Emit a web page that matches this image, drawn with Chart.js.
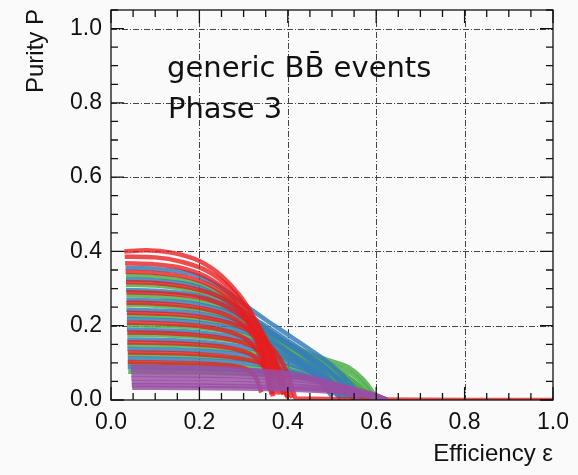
<!DOCTYPE html>
<html>
<head>
<meta charset="utf-8">
<script src="https://cdn.jsdelivr.net/npm/chart.js@4.4.1/dist/chart.umd.min.js"></script>
<style>
  html, body { margin: 0; padding: 0; background: #fafafa; }
  #wrap { width: 578px; height: 475px; }
</style>
</head>
<body>
<div id="wrap"><canvas id="c" width="578" height="475"></canvas></div>
<script>
// purity vs efficiency curves: [efficiency, purity]
const redCurves = [
  [[0.030,0.400],[0.08,0.403],[0.14,0.396],[0.20,0.374],[0.25,0.334],[0.29,0.283],[0.32,0.230],[0.35,0.165],[0.375,0.100],[0.395,0.048],[0.41,0.006]],
  [[0.031,0.386],[0.10,0.384],[0.16,0.372],[0.22,0.346],[0.27,0.300],[0.31,0.242],[0.34,0.182],[0.365,0.120],[0.385,0.060],[0.398,0.010]],
  [[0.032,0.368],[0.10,0.365],[0.17,0.352],[0.23,0.322],[0.28,0.272],[0.32,0.205],[0.35,0.135],[0.37,0.072],[0.382,0.015]],
  [[0.033,0.345],[0.10,0.342],[0.18,0.328],[0.24,0.298],[0.29,0.248],[0.32,0.196],[0.345,0.135],[0.362,0.072],[0.372,0.015]],
  [[0.034,0.318],[0.10,0.315],[0.18,0.302],[0.25,0.275],[0.29,0.240],[0.32,0.190],[0.34,0.135],[0.355,0.075],[0.363,0.015]],
  [[0.035,0.290],[0.10,0.288],[0.20,0.276],[0.26,0.252],[0.30,0.220],[0.33,0.180],[0.36,0.125],[0.38,0.070],[0.392,0.015]],
  [[0.035,0.262],[0.10,0.260],[0.20,0.248],[0.27,0.224],[0.31,0.190],[0.335,0.145],[0.35,0.090],[0.358,0.030]],
  [[0.036,0.235],[0.10,0.233],[0.20,0.224],[0.28,0.203],[0.33,0.175],[0.37,0.132],[0.395,0.082],[0.41,0.035],[0.418,0.004],[1.0,0.0]],
  [[0.036,0.208],[0.10,0.207],[0.20,0.199],[0.27,0.183],[0.31,0.160],[0.335,0.125],[0.35,0.080],[0.36,0.025]],
  [[0.037,0.182],[0.10,0.181],[0.20,0.174],[0.28,0.160],[0.33,0.138],[0.36,0.105],[0.38,0.060],[0.39,0.015]],
  [[0.037,0.155],[0.10,0.154],[0.20,0.149],[0.28,0.137],[0.32,0.120],[0.345,0.090],[0.36,0.050],[0.366,0.010]],
  [[0.038,0.128],[0.10,0.127],[0.20,0.123],[0.28,0.114],[0.34,0.098],[0.37,0.075],[0.39,0.040],[0.40,0.005]],
  [[0.038,0.102],[0.10,0.101],[0.20,0.098],[0.27,0.092],[0.31,0.080],[0.33,0.055],[0.34,0.020]]
];

const blueCurves = [
  [[0.033,0.356],[0.10,0.353],[0.18,0.340],[0.25,0.302],[0.30,0.258],[0.35,0.216],[0.40,0.176],[0.45,0.136],[0.50,0.092],[0.54,0.046],[0.57,0.006]],
  [[0.034,0.325],[0.10,0.322],[0.20,0.304],[0.26,0.268],[0.32,0.222],[0.38,0.176],[0.43,0.136],[0.48,0.092],[0.52,0.046],[0.55,0.006]],
  [[0.034,0.296],[0.10,0.294],[0.20,0.280],[0.27,0.248],[0.33,0.205],[0.39,0.160],[0.44,0.118],[0.48,0.076],[0.51,0.035],[0.53,0.005]],
  [[0.035,0.270],[0.10,0.268],[0.20,0.257],[0.28,0.230],[0.34,0.192],[0.40,0.150],[0.45,0.112],[0.50,0.072],[0.54,0.032],[0.56,0.005]],
  [[0.035,0.243],[0.10,0.241],[0.20,0.232],[0.28,0.210],[0.34,0.178],[0.39,0.140],[0.43,0.100],[0.47,0.055],[0.50,0.010]],
  [[0.036,0.218],[0.10,0.216],[0.20,0.208],[0.29,0.188],[0.35,0.160],[0.41,0.122],[0.46,0.084],[0.50,0.045],[0.535,0.006]],
  [[0.036,0.190],[0.10,0.188],[0.20,0.182],[0.30,0.165],[0.36,0.140],[0.42,0.105],[0.47,0.068],[0.50,0.035],[0.52,0.005]],
  [[0.037,0.163],[0.10,0.162],[0.20,0.157],[0.30,0.143],[0.37,0.122],[0.43,0.094],[0.48,0.062],[0.52,0.030],[0.545,0.004]],
  [[0.037,0.137],[0.10,0.136],[0.20,0.132],[0.30,0.122],[0.38,0.104],[0.44,0.080],[0.49,0.050],[0.53,0.020],[0.55,0.003]],
  [[0.038,0.112],[0.10,0.111],[0.20,0.108],[0.30,0.100],[0.38,0.086],[0.44,0.066],[0.48,0.042],[0.51,0.015],[0.52,0.002]],
  [[0.038,0.088],[0.10,0.087],[0.20,0.085],[0.30,0.080],[0.40,0.068],[0.47,0.050],[0.53,0.028],[0.565,0.008],[0.58,0.001]]
];

const greenCurves = [
  [[0.034,0.336],[0.10,0.333],[0.20,0.312],[0.26,0.276],[0.32,0.220],[0.38,0.168],[0.44,0.130],[0.50,0.104],[0.54,0.086],[0.57,0.056],[0.59,0.025],[0.60,0.004]],
  [[0.034,0.310],[0.10,0.308],[0.20,0.290],[0.27,0.255],[0.33,0.206],[0.39,0.158],[0.45,0.120],[0.50,0.094],[0.55,0.066],[0.58,0.030],[0.595,0.004]],
  [[0.035,0.282],[0.10,0.280],[0.20,0.266],[0.28,0.236],[0.34,0.192],[0.40,0.148],[0.46,0.110],[0.51,0.080],[0.55,0.050],[0.575,0.020],[0.585,0.003]],
  [[0.035,0.256],[0.10,0.254],[0.20,0.243],[0.28,0.218],[0.35,0.178],[0.41,0.138],[0.47,0.102],[0.52,0.072],[0.56,0.040],[0.585,0.012],[0.595,0.002]],
  [[0.036,0.228],[0.10,0.226],[0.20,0.218],[0.29,0.196],[0.36,0.160],[0.42,0.122],[0.48,0.088],[0.52,0.060],[0.55,0.030],[0.565,0.004]],
  [[0.036,0.202],[0.10,0.200],[0.20,0.194],[0.30,0.176],[0.37,0.146],[0.43,0.112],[0.49,0.080],[0.54,0.050],[0.57,0.020],[0.585,0.003]],
  [[0.037,0.176],[0.10,0.175],[0.20,0.169],[0.30,0.155],[0.37,0.132],[0.44,0.100],[0.49,0.068],[0.53,0.036],[0.55,0.005]],
  [[0.037,0.148],[0.10,0.147],[0.20,0.143],[0.30,0.132],[0.38,0.114],[0.45,0.088],[0.51,0.060],[0.56,0.030],[0.59,0.006]],
  [[0.038,0.122],[0.10,0.121],[0.20,0.118],[0.30,0.110],[0.38,0.096],[0.45,0.076],[0.50,0.052],[0.54,0.026],[0.56,0.004]],
  [[0.038,0.098],[0.10,0.097],[0.20,0.095],[0.30,0.089],[0.40,0.077],[0.47,0.060],[0.53,0.040],[0.575,0.018],[0.60,0.003]],
  [[0.039,0.076],[0.10,0.075],[0.20,0.074],[0.30,0.070],[0.40,0.062],[0.48,0.050],[0.54,0.034],[0.58,0.016],[0.605,0.002]]
];

const purpleCurves = [
  [[0.045,0.090],[0.10,0.089],[0.20,0.087],[0.30,0.082],[0.40,0.072],[0.47,0.056],[0.52,0.036],[0.55,0.012],[0.56,0.002]],
  [[0.045,0.080],[0.10,0.079],[0.20,0.077],[0.30,0.073],[0.40,0.064],[0.48,0.050],[0.54,0.032],[0.58,0.014],[0.60,0.002]],
  [[0.046,0.068],[0.10,0.067],[0.20,0.066],[0.30,0.063],[0.40,0.056],[0.48,0.045],[0.55,0.030],[0.60,0.013],[0.62,0.002]],
  [[0.046,0.058],[0.10,0.058],[0.20,0.057],[0.30,0.054],[0.40,0.048],[0.48,0.038],[0.54,0.026],[0.59,0.010],[0.61,0.001]],
  [[0.047,0.048],[0.10,0.048],[0.20,0.047],[0.30,0.045],[0.40,0.040],[0.49,0.032],[0.56,0.021],[0.61,0.008],[0.625,0.001]],
  [[0.047,0.040],[0.10,0.040],[0.20,0.039],[0.30,0.037],[0.40,0.033],[0.50,0.026],[0.57,0.016],[0.615,0.005],[0.625,0.001]],
  [[0.048,0.033],[0.10,0.033],[0.20,0.032],[0.30,0.031],[0.40,0.028],[0.50,0.022],[0.56,0.014],[0.60,0.006],[0.62,0.001]]
];

const xTickVals = [0, 0.2, 0.4, 0.6, 0.8, 1.0];
const yTickVals = [0, 0.2, 0.4, 0.6, 0.8, 1.0];
const xMinor = [0.05,0.1,0.15,0.25,0.3,0.35,0.45,0.5,0.55,0.65,0.7,0.75,0.85,0.9,0.95];
const yMinor = [0.05,0.1,0.15,0.25,0.3,0.35,0.45,0.5,0.55,0.65,0.7,0.75,0.85,0.9,0.95,1.05];

// first group ends up on top
const groups = [
  { curves: purpleCurves, color: 'rgba(152,78,163,0.82)' },
  { curves: redCurves, color: 'rgba(232,28,30,0.78)' },
  { curves: blueCurves, color: 'rgba(55,126,184,0.85)' },
  { curves: greenCurves, color: 'rgba(77,175,74,0.85)' }
];

const datasets = [];
groups.forEach(g => {
  g.curves.forEach(c => {
    datasets.push({
      data: c.map(p => ({ x: p[0], y: p[1] })),
      borderColor: g.color,
      borderWidth: 4.5,
      pointRadius: 0,
      showLine: true,
      cubicInterpolationMode: 'monotone'
    });
  });
});

// ROOT-like frame, dash-dot grid, inward ticks on all sides, texts
const rootFrame = {
  id: 'rootFrame',
  beforeDatasetsDraw(chart) {
    const { ctx, chartArea: a, scales: { x, y } } = chart;
    ctx.save();
    ctx.strokeStyle = '#444';
    ctx.lineWidth = 1;
    ctx.setLineDash([6, 2, 1, 2]);
    xTickVals.slice(1, -1).forEach(v => {
      const px = Math.round(x.getPixelForValue(v)) + 0.5;
      ctx.beginPath(); ctx.moveTo(px, a.top); ctx.lineTo(px, a.bottom); ctx.stroke();
    });
    yTickVals.slice(1).forEach(v => {
      const py = Math.round(y.getPixelForValue(v)) + 0.5;
      ctx.beginPath(); ctx.moveTo(a.left, py); ctx.lineTo(a.right, py); ctx.stroke();
    });
    ctx.restore();
  },
  afterDatasetsDraw(chart) {
    const { ctx, chartArea: a, scales: { x, y } } = chart;
    ctx.save();
    ctx.strokeStyle = '#111';
    ctx.lineWidth = 1.3;
    ctx.strokeRect(a.left, a.top, a.right - a.left, a.bottom - a.top);
    const tick = (vals, len) => {
      vals.forEach(v => {
        const px = x.getPixelForValue(v);
        ctx.beginPath();
        ctx.moveTo(px, a.bottom); ctx.lineTo(px, a.bottom - len);
        ctx.moveTo(px, a.top); ctx.lineTo(px, a.top + len);
        ctx.stroke();
      });
    };
    const ytick = (vals, len) => {
      vals.forEach(v => {
        const py = y.getPixelForValue(v);
        ctx.beginPath();
        ctx.moveTo(a.left, py); ctx.lineTo(a.left + len, py);
        ctx.moveTo(a.right, py); ctx.lineTo(a.right - len, py);
        ctx.stroke();
      });
    };
    tick(xMinor, 7); tick(xTickVals, 13);
    ytick(yMinor, 7); ytick(yTickVals, 13);
    ctx.restore();
  },
  afterDraw(chart) {
    const { ctx } = chart;
    ctx.save();
    ctx.fillStyle = '#111';
    ctx.font = '24px "Liberation Sans", Arial, sans-serif';
    ctx.textBaseline = 'alphabetic';
    ctx.textAlign = 'right';
    ctx.fillText('Efficiency \u03b5', 553, 461);
    ctx.translate(43, 9);
    ctx.rotate(-Math.PI / 2);
    ctx.fillText('Purity P', 0, 0);
    ctx.restore();

    ctx.save();
    ctx.fillStyle = '#111';
    ctx.font = '29px "DejaVu Sans", sans-serif';
    ctx.textAlign = 'left';
    ctx.textBaseline = 'alphabetic';
    ctx.fillText('generic BB\u0304 events', 167, 77);
    ctx.fillText('Phase 3', 168, 118);
    ctx.restore();
  }
};

const tickFont = { family: '"Liberation Sans", Arial, sans-serif', size: 23 };

new Chart(document.getElementById('c'), {
  type: 'scatter',
  data: { datasets },
  options: {
    responsive: false,
    animation: false,
    devicePixelRatio: 1,
    layout: { padding: { top: 10, right: 25, left: 0, bottom: 0 } },
    plugins: { legend: { display: false }, tooltip: { enabled: false } },
    scales: {
      x: {
        type: 'linear', min: 0, max: 1,
        afterBuildTicks: s => { s.ticks = xTickVals.map(v => ({ value: v })); },
        afterFit: s => { s.height = 75; s.paddingLeft = 0; s.paddingRight = 0; },
        grid: { display: false, drawTicks: false },
        border: { display: false },
        ticks: { font: tickFont, color: '#111', padding: 9, maxRotation: 0, callback: v => v.toFixed(1) }
      },
      y: {
        type: 'linear', min: 0, max: 1.05,
        afterBuildTicks: s => { s.ticks = yTickVals.map(v => ({ value: v })); },
        afterFit: s => { s.width = 111; s.paddingTop = 0; s.paddingBottom = 0; },
        grid: { display: false, drawTicks: false },
        border: { display: false },
        ticks: { font: tickFont, color: '#111', padding: 9, callback: v => v.toFixed(1) }
      }
    }
  },
  plugins: [rootFrame]
});
</script>
</body>
</html>
